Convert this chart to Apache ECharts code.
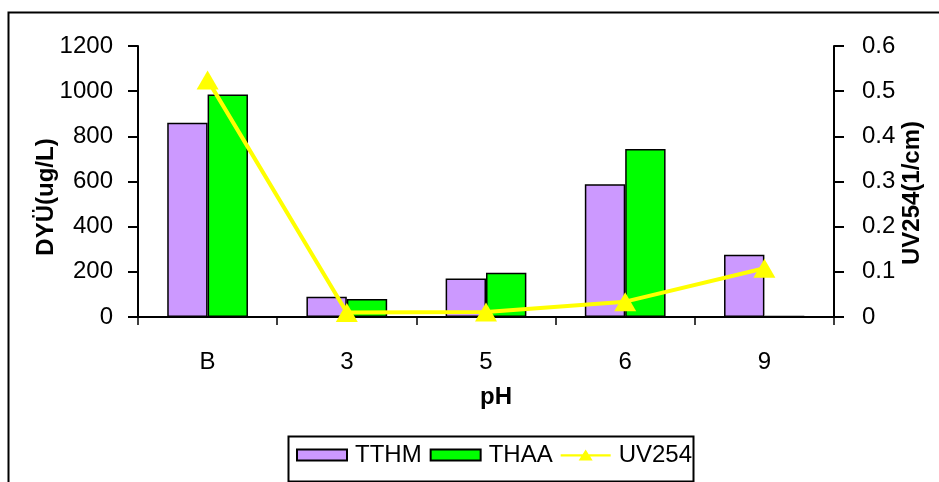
<!DOCTYPE html>
<html>
<head>
<meta charset="utf-8">
<script src="https://cdn.jsdelivr.net/npm/echarts@6/dist/echarts.min.js"></script>
<style>html,body{margin:0;padding:0;background:#fff;}#c{width:939px;height:482px;}</style>
</head>
<body>
<div id="c"></div>
<script>
var categories = ['B', '3', '5', '6', '9'];
var tthm = [860, 90, 170, 588, 276];
var thaa = [985, 80, 196, 744, 4];
var uv254 = [0.525, 0.01, 0.011, 0.034, 0.108];
var leftTicks = [0, 200, 400, 600, 800, 1000, 1200];
var rightTicks = [0, 0.1, 0.2, 0.3, 0.4, 0.5, 0.6];

var font = 'Liberation Sans, Arial, sans-serif';
var chart = echarts.init(document.getElementById('c'), null, {renderer: 'canvas'});
chart.setOption({
  animation: false,
  backgroundColor: '#fff',
  grid: {left: 138, right: 105, top: 46, bottom: 165, containLabel: false},
  legend: {
    left: 296, top: 443,
    itemWidth: 50, itemHeight: 11, itemGap: 8,
    padding: 0,
    symbolKeepAspect: false,
    textStyle: {fontFamily: font, fontSize: 24, color: '#000', padding: [0, 0, 0, 3]},
    data: [
      {name: 'TTHM', icon: 'rect'},
      {name: 'THAA', icon: 'rect'},
      {name: 'UV254', icon: 'path://M0,6 L22,6 L25,0 L28,6 L50,6 L50,9 L29.5,9 L32,14 L18,14 L20.5,9 L0,9 Z',
       itemStyle: {color: '#FFFF00', borderWidth: 0}}
    ]
  },
  xAxis: {
    type: 'category',
    data: categories,
    axisLine: {lineStyle: {color: '#000', width: 2}},
    axisTick: {show: true, length: 8, inside: false, lineStyle: {color: '#000', width: 1.5}},
    axisLabel: {fontFamily: font, fontSize: 24, color: '#000', margin: 33},
    splitLine: {show: false}
  },
  yAxis: [{
    type: 'value', min: leftTicks[0], max: leftTicks[leftTicks.length - 1], interval: 200,
    position: 'left',
    axisLine: {show: true, lineStyle: {color: '#000', width: 2}},
    axisTick: {show: true, length: 10, lineStyle: {color: '#000', width: 2}},
    axisLabel: {fontFamily: font, fontSize: 24, color: '#000', margin: 25,
      formatter: function (v) { return String(v); }},
    splitLine: {show: false}
  }, {
    type: 'value', min: rightTicks[0], max: rightTicks[rightTicks.length - 1], interval: 0.1,
    position: 'right',
    axisLine: {show: true, lineStyle: {color: '#000', width: 2}},
    axisTick: {show: true, length: 10, lineStyle: {color: '#000', width: 2}},
    axisLabel: {fontFamily: font, fontSize: 24, color: '#000', margin: 28,
      formatter: function (v) { return v === 0 ? '0' : v.toFixed(1); }},
    splitLine: {show: false}
  }],
  series: [{
    name: 'TTHM', type: 'bar', data: tthm, yAxisIndex: 0,
    barGap: '0%', barCategoryGap: '42%',
    itemStyle: {color: '#CC99FF', borderColor: '#000', borderWidth: 1.5}
  }, {
    name: 'THAA', type: 'bar', data: thaa, yAxisIndex: 0,
    barGap: '0%', barCategoryGap: '42%',
    itemStyle: {color: '#00FF00', borderColor: '#000', borderWidth: 1.5}
  }, {
    name: 'UV254', type: 'line', data: uv254, yAxisIndex: 1,
    symbol: 'triangle', symbolSize: [22, 19],
    lineStyle: {color: '#FFFF00', width: 4},
    itemStyle: {color: '#FFFF00'},
    z: 5
  }],
  graphic: [{
    type: 'rect', left: 6, top: 10, silent: true,
    shape: {width: 960, height: 500},
    style: {fill: 'none', stroke: '#000', lineWidth: 2}
  }, {
    type: 'rect', left: 286, top: 434, silent: true,
    shape: {width: 405, height: 45},
    style: {fill: 'none', stroke: '#000', lineWidth: 2}
  }, {
    type: 'text', x: 46, y: 197, rotation: Math.PI / 2,
    style: {text: 'DYÜ(ug/L)', font: 'bold 24px ' + font, fill: '#000', textAlign: 'center', textVerticalAlign: 'middle'}
  }, {
    type: 'text', x: 912, y: 193, rotation: Math.PI / 2,
    style: {text: 'UV254(1/cm)', font: 'bold 24px ' + font, fill: '#000', textAlign: 'center', textVerticalAlign: 'middle'}
  }, {
    type: 'text', x: 496, y: 397,
    style: {text: 'pH', font: 'bold 24px ' + font, fill: '#000', textAlign: 'center', textVerticalAlign: 'middle'}
  }]
});
</script>
</body>
</html>
